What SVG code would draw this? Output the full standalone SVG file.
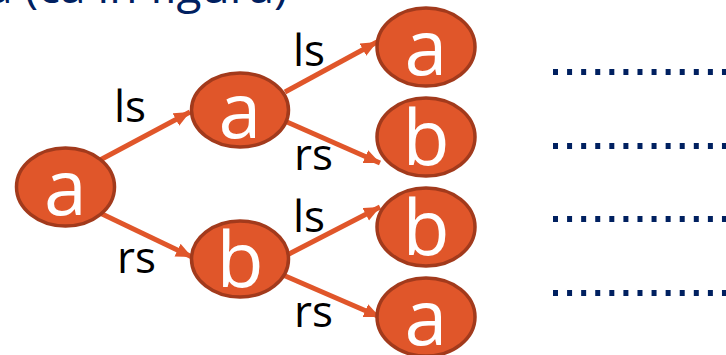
<svg xmlns="http://www.w3.org/2000/svg" width="726" height="355" viewBox="0 0 726 355">
<defs>
<style>
.node ellipse{fill:#E0562A;stroke:#A23A1C;stroke-width:3.5}
.node text{fill:#FFFFFF;font-family:"Open Sans","Noto Sans",sans-serif;font-size:77px;text-anchor:middle}
.edge{stroke:#E0562A;stroke-width:5;fill:none;marker-end:url(#arr)}
.lbl{fill:#000000;font-family:"Open Sans","Noto Sans",sans-serif;font-size:44px}
.dots{stroke:#002060;stroke-width:6;stroke-dasharray:5 9.08;fill:none}
</style>
<marker id="arr" markerUnits="userSpaceOnUse" markerWidth="18" markerHeight="16" refX="16" refY="7" orient="auto">
<path d="M0,0 L16,7 L0,14 z" fill="#E0562A"/>
</marker>
</defs>
<rect width="726" height="355" fill="#FFFFFF"/>
<text x="-13" y="3" font-family="'Open Sans','Noto Sans',sans-serif" font-size="46" fill="#002060">a (ca in figura)</text>
<g id="connectors">
<line class="edge" x1="100" y1="160" x2="190" y2="112"/>
<line class="edge" x1="100" y1="213" x2="192" y2="257"/>
<line class="edge" x1="285" y1="92" x2="377" y2="42"/>
<line class="edge" x1="287" y1="122" x2="380" y2="163"/>
<line class="edge" x1="287" y1="255" x2="380" y2="207"/>
<line class="edge" x1="283" y1="275" x2="380" y2="317"/>
<text class="lbl" x="114" y="122">ls</text>
<text class="lbl" x="117" y="273">rs</text>
<text class="lbl" x="293" y="66">ls</text>
<text class="lbl" x="294" y="170">rs</text>
<text class="lbl" x="293" y="232">ls</text>
<text class="lbl" x="294" y="327">rs</text>
</g>
<g id="n_root" class="node"><ellipse cx="65.5" cy="187" rx="49" ry="39"/><text x="65.5" y="215">a</text></g>
<g id="n_a1" class="node"><ellipse cx="240" cy="110" rx="48.5" ry="37"/><text x="240" y="138">a</text></g>
<g id="n_b1" class="node"><ellipse cx="240" cy="259" rx="48.5" ry="38"/><text x="240" y="287">b</text></g>
<g id="n_a2" class="node"><ellipse cx="426" cy="47" rx="49" ry="39"/><text x="426" y="75">a</text></g>
<g id="n_b2" class="node"><ellipse cx="426" cy="137" rx="49" ry="39"/><text x="426" y="165">b</text></g>
<g id="n_b3" class="node"><ellipse cx="426" cy="227" rx="49" ry="39"/><text x="426" y="255">b</text></g>
<g id="n_a4" class="node"><ellipse cx="426" cy="317" rx="49" ry="39"/><text x="426" y="345">a</text></g>
<g id="dotted">
<line class="dots" x1="553" y1="72" x2="726" y2="72"/>
<line class="dots" x1="553" y1="146" x2="726" y2="146"/>
<line class="dots" x1="553" y1="219" x2="726" y2="219"/>
<line class="dots" x1="553" y1="293" x2="726" y2="293"/>
</g>
</svg>
